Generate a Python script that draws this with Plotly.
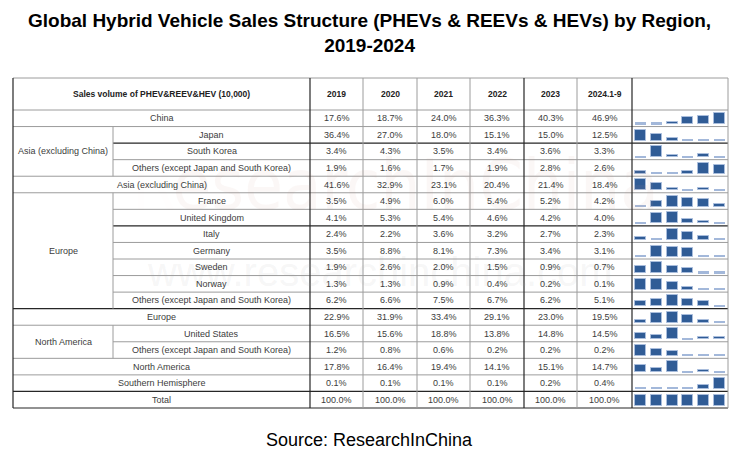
import plotly.graph_objects as go

# ---------------- data ----------------
title_text = "Global Hybrid Vehicle Sales Structure (PHEVs & REEVs & HEVs) by Region,<br>2019-2024"
source_text = "Source: ResearchInChina"
header_label = "Sales volume of PHEV&REEV&HEV (10,000)"
years = ["2019", "2020", "2021", "2022", "2023", "2024.1-9"]

row_labels = [
    "China", "Japan", "South Korea", "Others (except Japan and South Korea)",
    "Asia (excluding China)", "France", "United Kingdom", "Italy", "Germany",
    "Sweden", "Norway", "Others (except Japan and South Korea)", "Europe",
    "United States", "Others (except Japan and South Korea)", "North America",
    "Southern Hemisphere", "Total",
]
row_groups = [
    "", "Asia (excluding China)", "Asia (excluding China)", "Asia (excluding China)",
    "", "Europe", "Europe", "Europe", "Europe", "Europe", "Europe", "Europe",
    "", "North America", "North America", "", "", "",
]

v2019 = [17.6, 36.4, 3.4, 1.9, 41.6, 3.5, 4.1, 2.4, 3.5, 1.9, 1.3, 6.2, 22.9, 16.5, 1.2, 17.8, 0.1, 100.0]
v2020 = [18.7, 27.0, 4.3, 1.6, 32.9, 4.9, 5.3, 2.2, 8.8, 2.6, 1.3, 6.6, 31.9, 15.6, 0.8, 16.4, 0.1, 100.0]
v2021 = [24.0, 18.0, 3.5, 1.7, 23.1, 6.0, 5.4, 3.6, 8.1, 2.0, 0.9, 7.5, 33.4, 18.8, 0.6, 19.4, 0.1, 100.0]
v2022 = [36.3, 15.1, 3.4, 1.9, 20.4, 5.4, 4.6, 3.2, 7.3, 1.5, 0.4, 6.7, 29.1, 13.8, 0.2, 14.1, 0.1, 100.0]
v2023 = [40.3, 15.0, 3.6, 2.8, 21.4, 5.2, 4.2, 2.7, 3.4, 0.9, 0.2, 6.2, 23.0, 14.8, 0.2, 15.1, 0.2, 100.0]
v2024 = [46.9, 12.5, 3.3, 2.6, 18.4, 4.2, 4.0, 2.3, 3.1, 0.7, 0.1, 5.1, 19.5, 14.5, 0.2, 14.7, 0.4, 100.0]
series = [v2019, v2020, v2021, v2022, v2023, v2024]

# ---------------- layout constants ----------------
W, H = 738, 452
col_edges = [13, 113, 310, 363, 417, 470, 524, 577, 632, 728]
top, head_bot, bottom = 78, 110, 408
n = len(row_labels)
rh = (bottom - head_bot) / n
dark_rows = {2, 7, 12, 17, 18}
dark_cols = {0, 2, 6, 8}
DARK, GRAY = "#262626", "#9c9c9c"
FONT = "Liberation Sans, Arial, sans-serif"
TXT = "#3c3c3c"


def ry(i):
    return head_bot + i * rh


shapes, ann = [], []


def hline(x0, x1, y, dark):
    shapes.append(dict(type="line", xref="x", yref="y", x0=x0, x1=x1, y0=y, y1=y,
                       line=dict(color=DARK if dark else GRAY, width=1.2 if dark else 1)))


def vline(x, y0, y1, dark):
    shapes.append(dict(type="line", xref="x", yref="y", x0=x, x1=x, y0=y0, y1=y1,
                       line=dict(color=DARK if dark else GRAY, width=1.2 if dark else 1)))


def text(x, y, s, size=9, bold=False, color=TXT):
    ann.append(dict(x=x, y=y, xref="x", yref="y", text=f"<b>{s}</b>" if bold else s,
                    showarrow=False, xanchor="center", yanchor="middle",
                    font=dict(family=FONT, size=size, color=color)))


# watermark (faint, as in the reference)
ann.append(dict(x=395, y=185, xref="x", yref="y", showarrow=False,
                text="<span style='color:rgba(225,110,90,0.12)'>R</span>esearchInChina",
                font=dict(family="Liberation Sans Narrow, DejaVu Sans Condensed, sans-serif",
                          size=70, color="rgba(200,150,140,0.08)")))
ann.append(dict(x=380, y=272, xref="x", yref="y", showarrow=False,
                text="www.researchinchina.com",
                font=dict(family=FONT, size=40, color="rgba(170,170,170,0.11)")))

# horizontal lines
hline(col_edges[0], col_edges[-1], top, False)
for i in range(n + 1):
    y = ry(i)
    inside = 0 < i < n and row_groups[i - 1] != "" and row_groups[i - 1] == row_groups[i]
    x0 = col_edges[1] if inside else col_edges[0]
    hline(x0, col_edges[-1], y, i in dark_rows)

# vertical lines
for k, x in enumerate(col_edges):
    if k == 1:
        i = 0
        while i < n:
            if row_groups[i]:
                j = i
                while j + 1 < n and row_groups[j + 1] == row_groups[i]:
                    j += 1
                vline(x, ry(i), ry(j + 1), False)
                i = j + 1
            else:
                i += 1
    else:
        vline(x, top, bottom, k in dark_cols)

# header
text((col_edges[0] + col_edges[2]) / 2, (top + head_bot) / 2, header_label, size=8.5, bold=True, color="#222")
for c, yr in enumerate(years):
    text((col_edges[2 + c] + col_edges[3 + c]) / 2, (top + head_bot) / 2, yr, size=8.5, bold=True, color="#222")

# row labels & group labels
i = 0
while i < n:
    if row_groups[i]:
        j = i
        while j + 1 < n and row_groups[j + 1] == row_groups[i]:
            j += 1
        text((col_edges[0] + col_edges[1]) / 2, (ry(i) + ry(j + 1)) / 2, row_groups[i])
        for r in range(i, j + 1):
            text((col_edges[1] + col_edges[2]) / 2, (ry(r) + ry(r + 1)) / 2, row_labels[r])
        i = j + 1
    else:
        text((col_edges[0] + col_edges[2]) / 2, (ry(i) + ry(i + 1)) / 2, row_labels[i])
        i += 1

# values
for c, vals in enumerate(series):
    xc = (col_edges[2 + c] + col_edges[3 + c]) / 2
    for r, v in enumerate(vals):
        text(xc, (ry(r) + ry(r + 1)) / 2, f"{v:.1f}%")

# sparkline bars
spark_x0 = col_edges[8]
step, bw, full_h = 15.8, 11, 11
dark_x, dark_y, dark_b, light_x, light_b = [], [], [], [], []
for r in range(n):
    vals = [s[r] for s in series]
    lo, hi = min(vals), max(vals)
    base = ry(r + 1) - 2.5
    for k, v in enumerate(vals):
        frac = 1.0 if hi == lo else (v - lo) / (hi - lo)
        xc = spark_x0 + 8.5 + k * step
        if frac < 0.12:
            light_x.append(xc)
            light_b.append(base)
        else:
            dark_x.append(xc)
            dark_y.append(-max(2.5, frac * full_h))
            dark_b.append(base)

fig = go.Figure()
fig.add_trace(go.Bar(x=dark_x, y=dark_y, base=dark_b, width=bw,
                     marker=dict(color="#305c96", line=dict(color="#a9bddc", width=1)),
                     hoverinfo="skip", showlegend=False))
fig.add_trace(go.Bar(x=light_x, y=[-1.6] * len(light_x), base=light_b, width=bw,
                     marker=dict(color="#a3b8da", line=dict(width=0)),
                     hoverinfo="skip", showlegend=False))

# title and source
ann.append(dict(x=W / 2, y=33, xref="x", yref="y", text=f"<b>{title_text}</b>", showarrow=False,
                xanchor="center", yanchor="middle",
                font=dict(family=FONT, size=19, color="#000")))
ann.append(dict(x=W / 2, y=440, xref="x", yref="y", text=source_text, showarrow=False,
                xanchor="center", yanchor="middle",
                font=dict(family=FONT, size=18, color="#000")))

fig.update_layout(
    width=W, height=H, margin=dict(l=0, r=0, t=0, b=0),
    paper_bgcolor="white", plot_bgcolor="white",
    xaxis=dict(range=[0, W], visible=False, fixedrange=True),
    yaxis=dict(range=[H, 0], visible=False, fixedrange=True),
    shapes=shapes, annotations=ann, barmode="overlay", bargap=0,
)
fig.write_html("out.html", config={"displayModeBar": False},
               post_script="document.body.style.margin='0';document.body.style.overflow='hidden';")
